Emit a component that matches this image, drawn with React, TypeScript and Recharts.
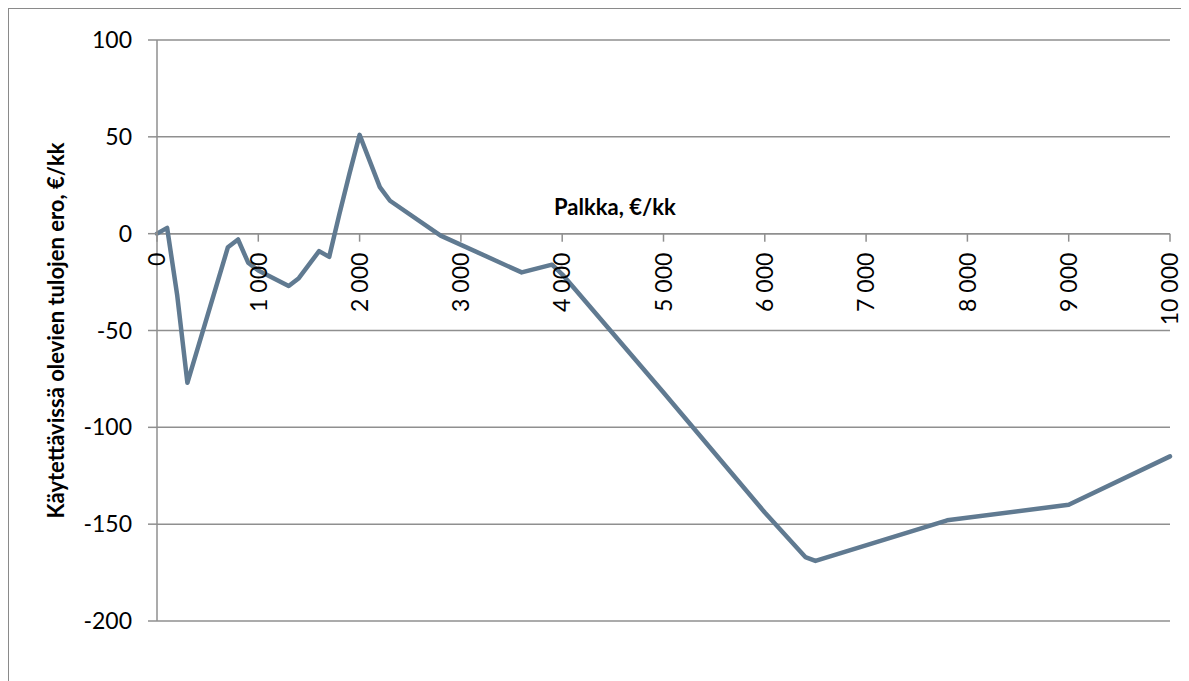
import React from 'react';
import {
  LineChart,
  Line,
  XAxis,
  YAxis,
  CartesianGrid,
  ReferenceLine,
  ReferenceDot,
} from 'recharts';

const salary = [
  0, 100, 200, 300, 700, 800, 900, 1000, 1300, 1400, 1600, 1700, 1800, 1900, 2000,
  2200, 2300, 2800, 3600, 3900, 4000, 5000, 6000, 6400, 6500, 7800, 9000, 10000,
];
const difference = [
  0, 3, -32, -77, -7, -3, -15, -19, -27, -23, -9, -12, 10, 31, 51,
  24, 17, -1, -20, -16, -21, -82, -144, -167, -169, -148, -140, -115,
];
const xTicks = [0, 1000, 2000, 3000, 4000, 5000, 6000, 7000, 8000, 9000, 10000];
const yTicks = [-200, -150, -100, -50, 0, 50, 100];
const xTitle = 'Palkka, €/kk';
const yTitle = 'Käytettävissä olevien tulojen ero, €/kk';

const data = salary.map((s, i) => ({ salary: s, diff: difference[i] }));

const FONT = 'Lato, "Open Sans", sans-serif';
const GRID = '#8f8f8f';
const LINE = '#607a91';

function fmt(v: number): string {
  if (v < 1000) return String(v);
  const th = Math.floor(v / 1000);
  const rest = String(v % 1000).padStart(3, '0');
  return `${th}\u00a0${rest}`;
}

const makeTick = (value: number) => (props: any) => {
  const { cx, cy } = props;
  const ty = cy + 19;
  return (
    <g>
      <line x1={cx} y1={cy} x2={cx} y2={cy + 8} stroke={GRID} strokeWidth={1.5} />
      <text
        x={cx}
        y={ty}
        transform={`rotate(-90 ${cx} ${ty})`}
        textAnchor="end"
        dy="0.36em"
        fontFamily={FONT}
        fontSize={23}
        fill="#000"
      >
        {fmt(value)}
      </text>
    </g>
  );
};

const XTitle = (props: any) => {
  const { viewBox } = props;
  const x = viewBox.x + viewBox.width * 0.392;
  const y = viewBox.y - 18.7;
  return (
    <text x={x} y={y} textAnchor="start" fontFamily={FONT} fontWeight="bold" fontSize={22} fill="#000">
      {xTitle}
    </text>
  );
};

const YTitle = (props: any) => {
  const { viewBox } = props;
  const x = viewBox.x + 7;
  const y = viewBox.y + viewBox.height / 2;
  return (
    <text
      x={x}
      y={y}
      transform={`rotate(-90 ${x} ${y})`}
      textAnchor="middle"
      fontFamily={FONT}
      fontWeight="bold"
      fontSize={22}
      fill="#000"
    >
      {yTitle}
    </text>
  );
};

export default function App() {
  return (
    <div
      style={{
        position: 'relative',
        width: 1180,
        height: 672,
        borderTop: '1px solid #8a8a8a',
        borderLeft: '1px solid #8a8a8a',
        background: '#fff',
      }}
    >
      <LineChart
        width={1180}
        height={672}
        data={data}
        margin={{ top: 31, right: 19, left: 48, bottom: 60 }}
      >
        <CartesianGrid horizontal vertical={false} stroke={GRID} strokeWidth={1.5} />
        <XAxis dataKey="salary" type="number" domain={[0, 10000]} ticks={xTicks} hide />
        <YAxis
          type="number"
          domain={[-200, 100]}
          ticks={yTicks}
          interval={0}
          width={100}
          tickSize={9}
          tickMargin={16}
          axisLine={{ stroke: GRID, strokeWidth: 1.5 }}
          tickLine={{ stroke: GRID, strokeWidth: 1.5 }}
          tick={{ fill: '#000', fontSize: 23, fontFamily: FONT }}
          label={{ content: YTitle }}
        />
        <ReferenceLine y={0} stroke={GRID} strokeWidth={1.5} label={{ content: XTitle }} />
        {xTicks.map((t) => (
          <ReferenceDot key={t} x={t} y={0} r={0} shape={makeTick(t)} />
        ))}
        <Line
          type="linear"
          dataKey="diff"
          stroke={LINE}
          strokeWidth={4.5}
          strokeLinejoin="round"
          strokeLinecap="round"
          dot={false}
          activeDot={false}
          isAnimationActive={false}
        />
      </LineChart>
    </div>
  );
}
